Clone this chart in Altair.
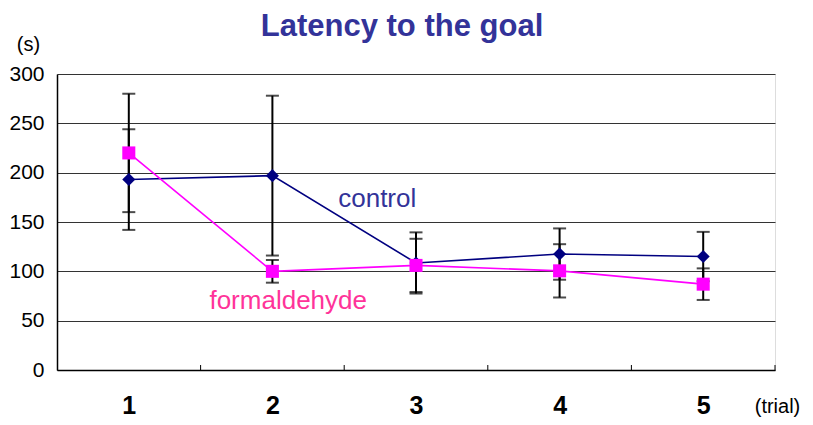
import altair as alt
import pandas as pd

trials = [1, 2, 3, 4, 5]
control_mean = [193, 197, 108.5, 117.5, 115]
control_err = [51, 81, 31, 26, 25]
formal_mean = [220, 100, 106, 100.5, 87]
formal_err = [60, 11.5, 27, 27, 16]
groups = ["control", "formaldehyde"]
y_ticks = [0, 50, 100, 150, 200, 250, 300]

line_colors = ["#000080", "#FF00FF"]
label_colors = ["#333399", "#FF3399"]
shapes = ["diamond", "square"]

# annotation anchors (data coords) for the series labels
label_x = [2.73, 2.11]
label_y = [165, 62]

rows = []
for g, means, errs in [(groups[0], control_mean, control_err), (groups[1], formal_mean, formal_err)]:
    for t, m, e in zip(trials, means, errs):
        rows.append({"trial": t, "group": g, "mean": m, "lo": m - e, "hi": m + e})
df = pd.DataFrame(rows)

lab_df = pd.DataFrame({"group": groups, "x": label_x, "y": label_y})
bound_df = pd.DataFrame({"b": [t + 0.5 for t in trials]})

SANS = "Liberation Sans, Arial, sans-serif"

xscale = alt.Scale(domain=[0.5, 5.5], nice=False, zero=False)
yscale = alt.Scale(domain=[0, 300], nice=False)

x_axis = alt.Axis(values=trials, format="d", title="(trial)", labelFont=SANS, labelFontSize=25,
                  labelFontWeight="bold", labelColor="black", ticks=False, grid=False,
                  domainColor="black", domainWidth=1.5, labelPadding=43,
                  labelBaseline="alphabetic", titleX=720, titleY=42, titleFont=SANS,
                  titleFontSize=20, titleFontWeight="normal", titleAlign="center",
                  titleBaseline="alphabetic", titleColor="black")
y_axis = alt.Axis(values=y_ticks, title="(s)", labelFont=SANS, labelFontSize=21,
                  labelColor="black", labelPadding=13, ticks=False, domainColor="black",
                  domainWidth=1.5, gridColor="#333333", gridWidth=1, titleAngle=0,
                  titleX=-29, titleY=-24, titleFont=SANS, titleFontSize=20,
                  titleFontWeight="normal", titleAlign="center", titleBaseline="alphabetic",
                  titleColor="black")

base = alt.Chart(df)

err = base.mark_rule(color="black", strokeWidth=2).encode(
    x=alt.X("trial:Q", scale=xscale, axis=x_axis),
    y=alt.Y("lo:Q", scale=yscale, axis=y_axis),
    y2="hi:Q",
)
cap_lo = base.mark_tick(color="black", orient="horizontal", size=13, thickness=2).encode(
    x=alt.X("trial:Q", scale=xscale), y=alt.Y("lo:Q", scale=yscale))
cap_hi = base.mark_tick(color="black", orient="horizontal", size=13, thickness=2).encode(
    x=alt.X("trial:Q", scale=xscale), y=alt.Y("hi:Q", scale=yscale))

color = alt.Color("group:N", scale=alt.Scale(domain=groups, range=line_colors), legend=None)
lines = base.mark_line(strokeWidth=1.6).encode(
    x=alt.X("trial:Q", scale=xscale), y=alt.Y("mean:Q", scale=yscale), color=color)
points = base.mark_point(filled=True, opacity=1, size=170).encode(
    x=alt.X("trial:Q", scale=xscale), y=alt.Y("mean:Q", scale=yscale), color=color,
    shape=alt.Shape("group:N", scale=alt.Scale(domain=groups, range=shapes), legend=None))

labels = alt.Chart(lab_df).mark_text(font=SANS, fontSize=26, align="center",
                                     baseline="alphabetic").encode(
    x=alt.X("x:Q", scale=xscale), y=alt.Y("y:Q", scale=yscale), text="group:N",
    color=alt.Color("group:N", scale=alt.Scale(domain=groups, range=label_colors), legend=None))

inner_ticks = alt.Chart(bound_df).mark_rule(color="black", strokeWidth=1).encode(
    x=alt.X("b:Q", scale=xscale), y=alt.value(296), y2=alt.value(291))

chart = alt.layer(err, cap_lo, cap_hi, inner_ticks, lines, points, labels).resolve_scale(
    color="independent"
).properties(
    width=718, height=296,
    autosize=alt.AutoSizeParams(type="none"),
    padding={"left": 49, "top": 66, "right": 30, "bottom": 47},
    title=alt.TitleParams("Latency to the goal", font=SANS, fontSize=31, fontWeight="bold",
                          color="#333399", anchor="middle", frame="group", dx=-14,
                          offset=-9),
).configure_view(stroke="#999999", strokeWidth=1.5).configure(background="white")

chart.save("out.html", embed_options={"renderer": "svg", "actions": False})
